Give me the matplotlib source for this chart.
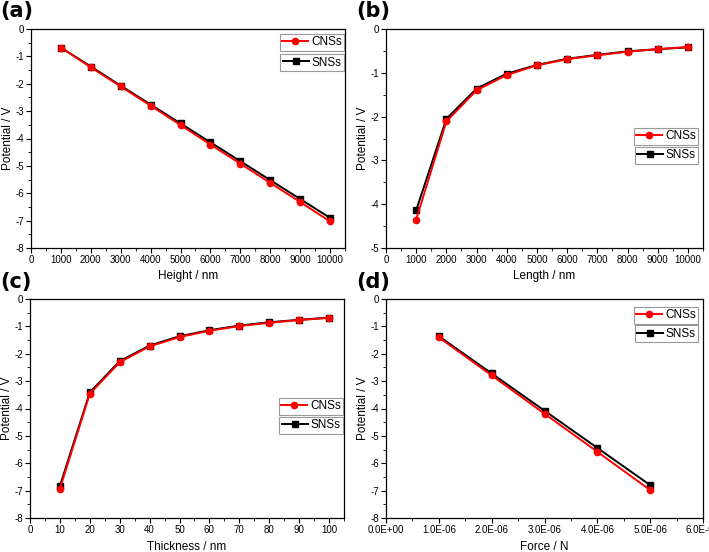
import numpy as np
import matplotlib.pyplot as plt
from matplotlib.ticker import MultipleLocator, FormatStrFormatter, FuncFormatter
from matplotlib.lines import Line2D

plt.rcParams['font.family'] = ['Liberation Sans', 'DejaVu Sans']
plt.rcParams['axes.unicode_minus'] = False

# Data
height = [1000, 2000, 3000, 4000, 5000, 6000, 7000, 8000, 9000, 10000]
height_cns = [-0.68, -1.40, -2.10, -2.80, -3.51, -4.22, -4.92, -5.62, -6.32, -7.03]
height_sns = [-0.68, -1.37, -2.07, -2.76, -3.45, -4.14, -4.83, -5.52, -6.21, -6.90]

length = [1000, 2000, 3000, 4000, 5000, 6000, 7000, 8000, 9000, 10000]
length_cns = [-4.35, -2.11, -1.40, -1.05, -0.83, -0.69, -0.60, -0.52, -0.46, -0.41]
length_sns = [-4.14, -2.05, -1.36, -1.02, -0.82, -0.68, -0.59, -0.51, -0.46, -0.42]

thickness = [10, 20, 30, 40, 50, 60, 70, 80, 90, 100]
thick_cns = [-6.93, -3.46, -2.31, -1.73, -1.39, -1.16, -0.99, -0.87, -0.77, -0.69]
thick_sns = [-6.83, -3.41, -2.27, -1.70, -1.36, -1.14, -0.97, -0.85, -0.76, -0.68]

force = [1e-6, 2e-6, 3e-6, 4e-6, 5e-6]
force_cns = [-1.40, -2.79, -4.19, -5.58, -6.98]
force_sns = [-1.36, -2.72, -4.08, -5.44, -6.80]

W, H = 709, 552
fig = plt.figure(figsize=(W / 100, H / 100), dpi=100)


def box(l, t, r, b):
    return [l / W, 1 - b / H, (r - l) / W, (b - t) / H]


def sci(v, pos):
    return f'{v:.1E}'


def panel(rect, x, cns, sns, xlabel, ylim, xlim, xmaj, xmin,
          label, labpos, leg_top, leg_right=1.0, xfmt=None):
    ax = fig.add_axes(box(*rect))
    ax.plot(x, sns, '-', color='black', marker='s', ms=4, lw=1.4, zorder=2)
    ax.plot(x, cns, '-', color='red', marker='o', ms=4.5, lw=1.4, zorder=3)
    ax.set_xlim(*xlim)
    ax.set_ylim(*ylim)
    ax.xaxis.set_major_locator(MultipleLocator(xmaj))
    ax.xaxis.set_minor_locator(MultipleLocator(xmin))
    ax.yaxis.set_major_locator(MultipleLocator(1))
    ax.yaxis.set_minor_locator(MultipleLocator(0.5))
    ax.yaxis.set_major_formatter(FormatStrFormatter('%d'))
    if xfmt is not None:
        ax.xaxis.set_major_formatter(xfmt)
    ax.tick_params(which='both', direction='out', top=False, right=False,
                   labelsize=7, pad=1.5)
    ax.tick_params(which='major', length=3.5)
    ax.tick_params(which='minor', length=2)
    ax.set_xlabel(xlabel, fontsize=8.5, labelpad=4)
    ax.set_ylabel('Potential / V', fontsize=8.5, labelpad=1)
    for s in ax.spines.values():
        s.set_linewidth(0.9)
    h1 = [Line2D([], [], color='red', marker='o', ms=4.5, lw=1.4)]
    h2 = [Line2D([], [], color='black', marker='s', ms=4, lw=1.4)]
    kw = dict(fontsize=8.5, frameon=True, fancybox=False, edgecolor='gray',
              handlelength=2.2, handletextpad=0.25, borderpad=0.2,
              borderaxespad=0.0, loc='upper right')
    leg1 = ax.legend(h1, ['CNSs'], bbox_to_anchor=(leg_right, leg_top[0]), **kw)
    ax.add_artist(leg1)
    ax.legend(h2, ['SNSs'], bbox_to_anchor=(leg_right, leg_top[1]), **kw)
    for lg in (leg1, ax.get_legend()):
        lg.get_frame().set_linewidth(0.8)
    fig.text(labpos[0] / W, 1 - labpos[1] / H, label, fontsize=15,
             fontweight='bold', va='top', ha='left', family='DejaVu Sans')
    return ax


panel((31, 29, 345, 248), height, height_cns, height_sns, 'Height / nm',
      (-8, 0), (0, 10500), 1000, 500, '(a)', (0, 1),
      (0.977, 0.885), 0.997)
panel((386, 29, 703, 248), length, length_cns, length_sns, 'Length / nm',
      (-5, 0), (0, 10500), 1000, 500, '(b)', (356, 1),
      (0.548, 0.462), 0.985)
panel((30, 299, 344, 518), thickness, thick_cns, thick_sns, 'Thickness / nm',
      (-8, 0), (0, 105), 10, 5, '(c)', (0, 272),
      (0.548, 0.462), 0.997)
panel((386, 299, 703, 518), force, force_cns, force_sns, 'Force / N',
      (-8, 0), (0, 6e-6), 1e-6, 5e-7, '(d)', (356, 272),
      (0.963, 0.880), 0.985, FuncFormatter(sci))

plt.savefig('out.png', dpi=100)
